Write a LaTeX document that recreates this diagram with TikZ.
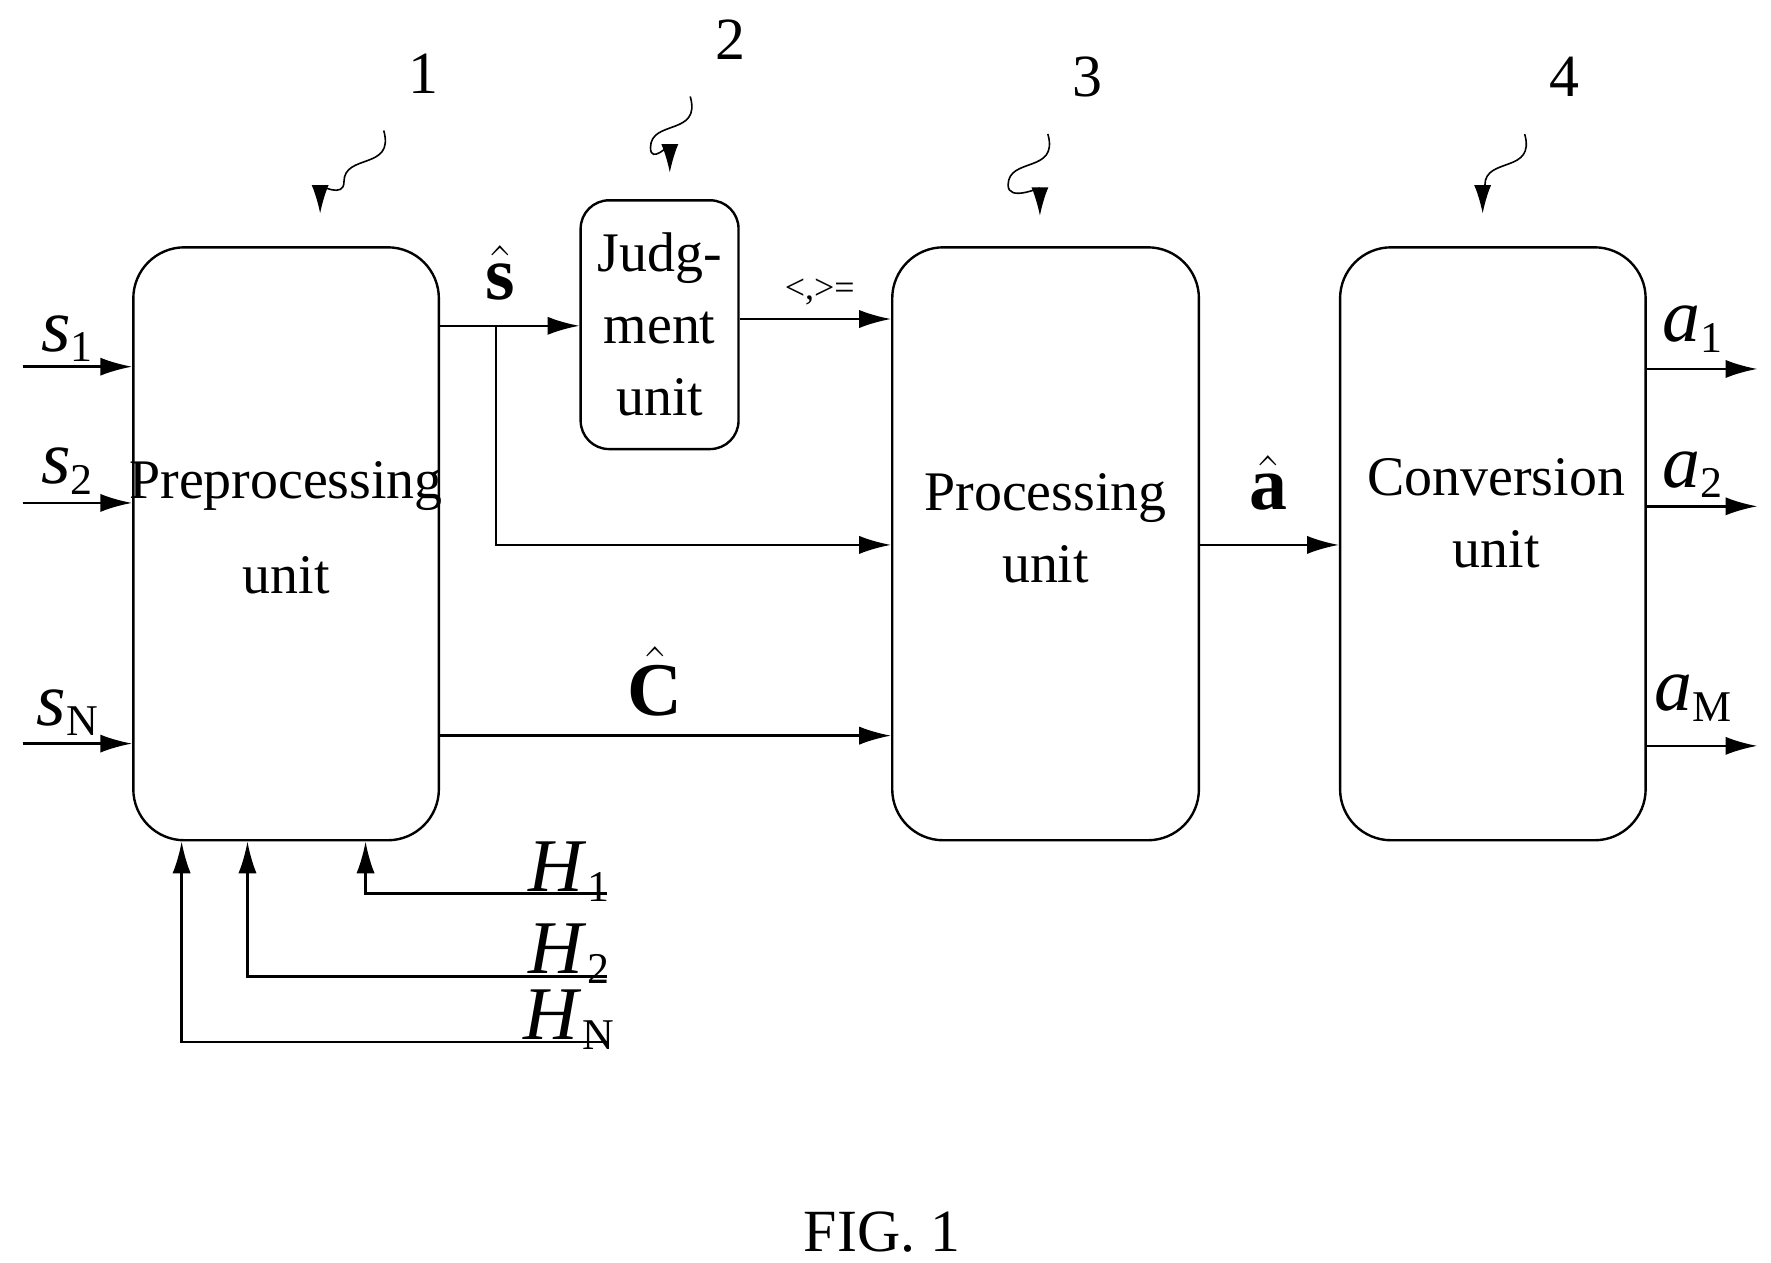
\documentclass[tikz,border=0pt]{standalone}
\usepackage{fontspec}
\setmainfont{Liberation Serif}
\usetikzlibrary{arrows.meta}
\tikzset{
  unit/.style={draw, semithick, rounded corners=0.45cm, inner sep=0pt, font=\fontsize{14}{18}\selectfont, align=center},
  sig/.style={semithick, -{Latex[length=0.28cm,width=0.16cm]}},
  tag/.style={font=\fontsize{15}{18}\selectfont},
  sym/.style={font=\fontsize{19}{21}\selectfont},
  callout/.style={thin, -{Latex[length=0.25cm,width=0.15cm]}}
}
\newcommand{\vsym}[2]{\textit{#1}\textsubscript{\fontsize{11}{11}\selectfont #2}}
\begin{document}
\begin{tikzpicture}[x=0.01cm, y=-0.01cm]
\useasboundingbox (0,0) rectangle (1560,1112);
% units
\node (pre) [unit, minimum width=2.69cm, minimum height=5.22cm] at (252,479) {};
\node at (252,465) [font=\fontsize{14}{18}\selectfont, align=center] {Preprocessing\\[0.2cm]unit};
\node (judge) [unit, rounded corners=0.25cm, minimum width=1.39cm, minimum height=2.19cm] at (581,286) {Judg-\\ment\\unit};
\node (proc) [unit, minimum width=2.70cm, minimum height=5.22cm] at (921,479) {};
\node at (921,465) [font=\fontsize{14}{18}\selectfont, align=center] {Processing\\unit};
\node (conv) [unit, minimum width=2.69cm, minimum height=5.22cm] at (1315,479) {};
\node at (1318,452) [font=\fontsize{14}{18}\selectfont, align=center] {Conversion\\unit};
% inputs
\foreach \y/\n/\ly in {323/1/298, 443/2/415, 655/N/628} {
  \coordinate (in\n) at (20,\y);
  \draw[sig] (in\n) -- (pre.west |- in\n);
  \node[sym] at (60,\ly) {\vsym{s}{\n}};
}
% outputs
\foreach \y/\n/\ly in {325/1/290, 446/2/418, 657/M/615} {
  \coordinate (out\n) at (1548,\y);
  \draw[sig] (conv.east |- out\n) -- (out\n);
  \node[sym] at (1492,\ly) {\vsym{a}{\n}};
}
% channel inputs
\foreach \x/\y/\n/\ly in {322/787/1/768, 218/860/2/840, 160/918/N/898} {
  \coordinate (h\n) at (535,\y);
  \draw[sig] (h\n) -| (pre.south -| \x,0);
  \node[sym] at (502,\ly) {\vsym{H}{\n}};
}
% internal signals
\coordinate (br) at (437,287);
\draw[semithick] (pre.east |- br) -- (br);
\draw[sig] (br) -- (judge.west |- br);
\draw[sig] (br) |- (proc.west |- 0,480);
\node[sym] at (441,240) {$\hat{\mathbf{s}}$};
\draw[sig] (judge.east |- 0,281) -- (proc.west |- 0,281);
\node at (722,257) [font=\fontsize{9}{10}\selectfont] {<,>=};
\draw[sig] (pre.east |- 0,648) -- (proc.west |- 0,648);
\node[sym] at (577,600) {$\hat{\mathbf{C}}$};
\draw[sig] (proc.east |- 0,480) -- (conv.west |- 0,480);
\node[sym] at (1117,425) {$\hat{\mathbf{a}}$};
% reference numerals
\foreach \n/\nx/\ny/\ax/\ay in {1/373/65/282/188, 2/643/35/590/152, 3/958/68/916/190, 4/1378/68/1306/188} {
  \node[tag] (num\n) at (\nx,\ny) {\n};
  \draw[callout] (\nx-35,\ny+50) .. controls (\nx-25,\ny+85) and (\nx-70,\ny+70) .. (\nx-70,\ny+95)
    .. controls (\nx-70,\ny+110) and (\ax,\ay-25) .. (\ax,\ay);
}
\node at (777,1085) [font=\fontsize{15}{18}\selectfont] {FIG. 1};
\end{tikzpicture}
\end{document}
